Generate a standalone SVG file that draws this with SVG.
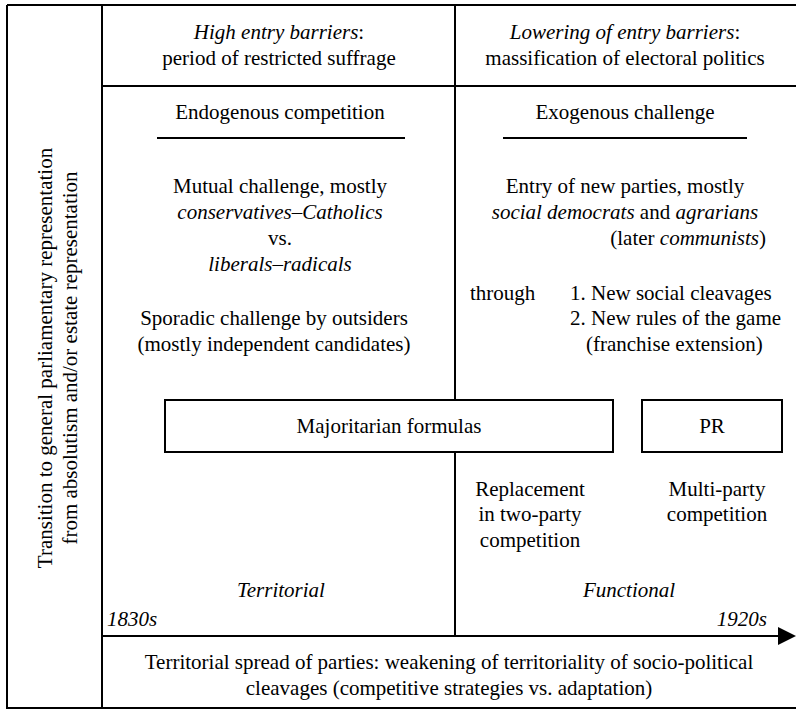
<svg xmlns="http://www.w3.org/2000/svg" width="796" height="710" viewBox="0 0 796 710">
<defs>
<style>
text{font-family:"Liberation Serif","Times New Roman",serif;font-size:21px;fill:#000}
.c{text-anchor:middle}
.e{text-anchor:end}
.i{font-style:italic}
.ln{stroke:#000;stroke-width:2;fill:none}
.box{stroke:#000;stroke-width:2;fill:#fff}
</style>
</defs>
<rect x="0" y="0" width="796" height="710" fill="#fff"/>
<g id="frame">
<path class="ln" d="M7,5 H796 M7,5 V708 H796 M102,5 V708 M102,86 H796 M455,5 V636"/>
<path class="ln" d="M157,138 H405 M503,138 H747"/>
</g>
<g id="connectors">
<line x1="102" y1="636" x2="780" y2="636" stroke="#000" stroke-width="2"/>
<path d="M778,627 L796,636 L778,645 z" fill="#000"/>
</g>
<g id="side">
<text class="c" transform="translate(52,358) rotate(-90)">Transition to general parliamentary representation</text>
<text class="c" transform="translate(77,358) rotate(-90)">from absolutism and/or estate representation</text>
</g>
<g id="header-left">
<text class="c" x="279" y="39"><tspan class="i">High entry barriers</tspan>:</text>
<text class="c" x="279" y="65">period of restricted suffrage</text>
</g>
<g id="header-right">
<text class="c" x="625" y="39"><tspan class="i">Lowering of entry barriers</tspan>:</text>
<text class="c" x="625" y="65">massification of electoral politics</text>
</g>
<g id="endogenous">
<text class="c" x="280" y="119">Endogenous competition</text>
<text class="c" x="280" y="193">Mutual challenge, mostly</text>
<text class="c i" x="280" y="219">conservatives–Catholics</text>
<text class="c" x="280" y="245">vs.</text>
<text class="c i" x="280" y="271">liberals–radicals</text>
<text class="c" x="274" y="325">Sporadic challenge by outsiders</text>
<text class="c" x="274" y="351">(mostly independent candidates)</text>
</g>
<g id="exogenous">
<text class="c" x="625" y="119">Exogenous challenge</text>
<text class="c" x="625" y="193">Entry of new parties, mostly</text>
<text class="c" x="625" y="219"><tspan class="i">social democrats</tspan> and <tspan class="i">agrarians</tspan></text>
<text class="e" x="766" y="245">(later <tspan class="i">communists</tspan>)</text>
<text x="470" y="300">through</text>
<text x="570" y="300">1. New social cleavages</text>
<text x="570" y="325">2. New rules of the game</text>
<text x="586" y="351">(franchise extension)</text>
</g>
<g id="majoritarian">
<rect class="box" x="165" y="400" width="448" height="52"/>
<text class="c" x="389" y="433">Majoritarian formulas</text>
</g>
<g id="pr">
<rect class="box" x="642" y="400" width="140" height="52"/>
<text class="c" x="712" y="433">PR</text>
</g>
<g id="replacement">
<text class="c" x="530" y="496">Replacement</text>
<text class="c" x="530" y="521">in two-party</text>
<text class="c" x="530" y="547">competition</text>
</g>
<g id="multiparty">
<text class="c" x="717" y="496">Multi-party</text>
<text class="c" x="717" y="521">competition</text>
</g>
<g id="timeline">
<text class="c i" x="281" y="597">Territorial</text>
<text class="c i" x="629" y="597">Functional</text>
<text class="i" x="107" y="626">1830s</text>
<text class="e i" x="767" y="626">1920s</text>
</g>
<g id="bottom">
<text class="c" x="449" y="669">Territorial spread of parties: weakening of territoriality of socio-political</text>
<text class="c" x="449" y="695">cleavages (competitive strategies vs. adaptation)</text>
</g>
</svg>
